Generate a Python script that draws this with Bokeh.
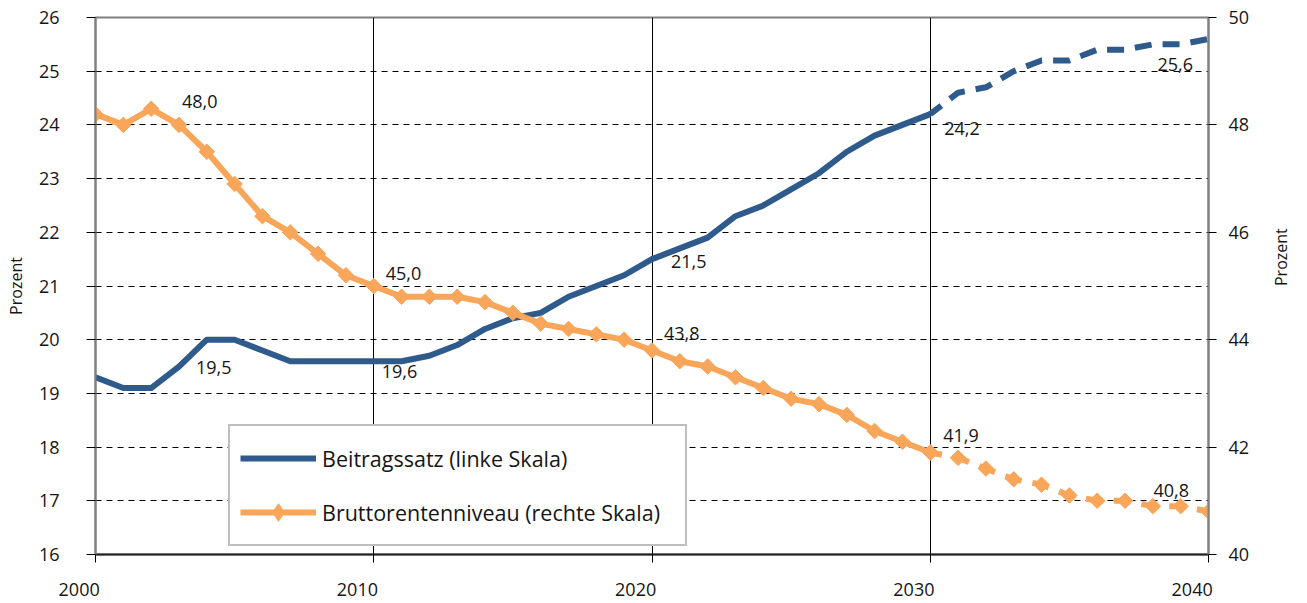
import math
from bokeh.plotting import figure
from bokeh.models import (Range1d, LinearAxis, FixedTicker, ColumnDataSource,
                          Legend, LegendItem, LabelSet)
from bokeh.core.properties import value
from bokeh.embed import file_html
from bokeh.resources import INLINE

# ---------------- data ----------------
years_actual = list(range(2000, 2031))
years_proj = list(range(2030, 2041))

beitragssatz = [19.3, 19.1, 19.1, 19.5, 20.0, 20.0, 19.8, 19.6, 19.6, 19.6,
                19.6, 19.6, 19.7, 19.9, 20.2, 20.4, 20.5, 20.8, 21.0, 21.2,
                21.5, 21.7, 21.9, 22.3, 22.5, 22.8, 23.1, 23.5, 23.8, 24.0,
                24.2]
beitragssatz_proj = [24.2, 24.6, 24.7, 25.0, 25.2, 25.2, 25.4, 25.4, 25.5, 25.5, 25.6]

rentenniveau = [48.2, 48.0, 48.3, 48.0, 47.5, 46.9, 46.3, 46.0, 45.6, 45.2,
                45.0, 44.8, 44.8, 44.8, 44.7, 44.5, 44.3, 44.2, 44.1, 44.0,
                43.8, 43.6, 43.5, 43.3, 43.1, 42.9, 42.8, 42.6, 42.3, 42.1,
                41.9]
rentenniveau_proj = [41.9, 41.8, 41.6, 41.4, 41.3, 41.1, 41.0, 41.0, 40.9, 40.9, 40.8]

series_names = ["Beitragssatz (linke Skala)", "Bruttorentenniveau (rechte Skala)"]
axis_title = "Prozent"
left_ticks = list(range(16, 27))
right_ticks = list(range(40, 51, 2))
x_ticks = [2000, 2010, 2020, 2030, 2040]
x_tick_labels = ["2000", "2010", "2020", "2030", "2040"]
labelled_years = [2003, 2010, 2020, 2030, 2040]

# ---------------- styles ----------------
BLUE = "#2E5B8C"
ORANGE = "#F9A65A"
TXT = "#151515"
FONT = "Open Sans"

all_years = years_actual + years_proj[1:]
all_b = beitragssatz + beitragssatz_proj[1:]
all_r = rentenniveau + rentenniveau_proj[1:]

def fmt(v):
    return f"{v:.1f}".replace(".", ",")

p = figure(width=1307, height=603,
           x_range=Range1d(2000, 2040), y_range=Range1d(16, 26),
           output_backend="svg", toolbar_location=None,
           min_border_left=95, min_border_right=99,
           min_border_top=17, min_border_bottom=49)
p.extra_y_ranges = {"right": Range1d(40, 50)}
p.background_fill_color = "white"
p.border_fill_color = "white"
p.outline_line_color = "#808080"
p.outline_line_width = 2

# grids
p.xgrid.ticker = FixedTicker(ticks=x_ticks[1:-1])
p.xgrid.grid_line_color = "black"
p.xgrid.grid_line_width = 1
p.ygrid.ticker = FixedTicker(ticks=left_ticks[1:-1])
p.ygrid.grid_line_color = "black"
p.ygrid.grid_line_width = 1
p.ygrid.grid_line_dash = "6 5"

# x axis (labels sit a little left of their ticks, as in the original)
xa = p.xaxis[0]
xa.ticker = FixedTicker(ticks=x_ticks)
xa.major_label_overrides = {t: lab + "\u00a0" * 7 for t, lab in zip(x_ticks, x_tick_labels)}
xa.axis_line_color = "#222222"
xa.axis_line_width = 2
xa.major_tick_in = 0
xa.major_tick_out = 8
xa.major_tick_line_color = "black"
xa.minor_tick_line_color = None
xa.major_label_standoff = 14
xa.major_label_text_font = FONT
xa.major_label_text_font_size = "18px"
xa.major_label_text_color = TXT

# left axis
ya = p.yaxis[0]
ya.ticker = FixedTicker(ticks=left_ticks)
ya.axis_line_color = "#808080"
ya.axis_line_width = 2
ya.major_tick_in = 0
ya.major_tick_out = 9
ya.major_tick_line_color = "black"
ya.minor_tick_line_color = None
ya.major_label_standoff = 27
ya.major_label_text_font = FONT
ya.major_label_text_font_size = "18px"
ya.major_label_text_color = TXT
ya.axis_label = axis_title
ya.axis_label_standoff = 9
ya.axis_label_text_font = FONT
ya.axis_label_text_font_size = "16px"
ya.axis_label_text_font_style = "normal"
ya.axis_label_text_color = TXT

# right axis
ra = LinearAxis(y_range_name="right", ticker=FixedTicker(ticks=right_ticks))
ra.axis_line_color = "#808080"
ra.axis_line_width = 2
ra.major_tick_in = 0
ra.major_tick_out = 8
ra.major_tick_line_color = "black"
ra.minor_tick_line_color = None
ra.major_label_standoff = 12
ra.major_label_text_font = FONT
ra.major_label_text_font_size = "18px"
ra.major_label_text_color = TXT
ra.axis_label = axis_title
ra.axis_label_standoff = 29
ra.axis_label_text_font = FONT
ra.axis_label_text_font_size = "16px"
ra.axis_label_text_font_style = "normal"
ra.axis_label_text_color = TXT
ra.axis_label_orientation = math.pi / 2
p.add_layout(ra, "right")

# lines
b_hist = p.line(years_actual, beitragssatz, line_color=BLUE, line_width=6, line_join="round")
p.line(years_proj, beitragssatz_proj, line_color=BLUE, line_width=6,
       line_dash="17 11", line_dash_offset=3)

r_hist = p.line(years_actual, rentenniveau, y_range_name="right",
                line_color=ORANGE, line_width=6, line_join="round")
p.scatter(years_actual, rentenniveau, y_range_name="right", marker="square",
          angle=math.pi / 4, size=11, fill_color=ORANGE, line_color=ORANGE, line_width=1)
p.line(years_proj, rentenniveau_proj, y_range_name="right",
       line_color=ORANGE, line_width=6, line_dash="17 11", line_dash_offset=5)
p.scatter(years_proj, rentenniveau_proj, y_range_name="right", marker="square",
          angle=math.pi / 4, size=11, fill_color=ORANGE, line_color=ORANGE, line_width=1)
# diamond symbol used only by the legend (renderer itself hidden)
r_legend_marker = p.scatter(x=years_actual[:1], y=rentenniveau[:1], y_range_name="right",
                            marker="diamond", size=14, fill_color=ORANGE,
                            line_color=ORANGE, line_width=1, visible=False)

# data labels
b_src = ColumnDataSource(dict(
    x=labelled_years,
    y=[all_b[all_years.index(yr)] for yr in labelled_years],
    text=[fmt(all_b[all_years.index(yr)]) for yr in labelled_years],
    xo=[17, 8, 19, 14, -51],
    yo=[-1, -10, -2, -14, -26],
))
r_src = ColumnDataSource(dict(
    x=labelled_years,
    y=[all_r[all_years.index(yr)] for yr in labelled_years],
    text=[fmt(all_r[all_years.index(yr)]) for yr in labelled_years],
    xo=[3, 12, 12, 13, -55],
    yo=[23, 13, 17, 17, 21],
))
for src, rng in ((b_src, "default"), (r_src, "right")):
    ls = LabelSet(x="x", y="y", text="text", source=src, x_offset="xo", y_offset="yo",
                  y_range_name=rng, text_font=value(FONT), text_font_size=value("18px"),
                  text_color=TXT, text_align="left", text_baseline="middle")
    p.add_layout(ls)

legend = Legend(items=[LegendItem(label=series_names[0], renderers=[b_hist]),
                       LegendItem(label=series_names[1], renderers=[r_hist, r_legend_marker])],
                location=(133, 8), orientation="vertical",
                glyph_width=76, glyph_height=44, label_height=44, label_width=353,
                label_standoff=6, spacing=10, padding=10, margin=0,
                border_line_color="#808080", border_line_width=2,
                background_fill_color="white", background_fill_alpha=1.0,
                label_text_font=FONT, label_text_font_size="21.5px", label_text_color=TXT)
p.add_layout(legend)

open("out.html", "w").write(file_html(p, INLINE, title="Beitragssatz und Bruttorentenniveau"))
